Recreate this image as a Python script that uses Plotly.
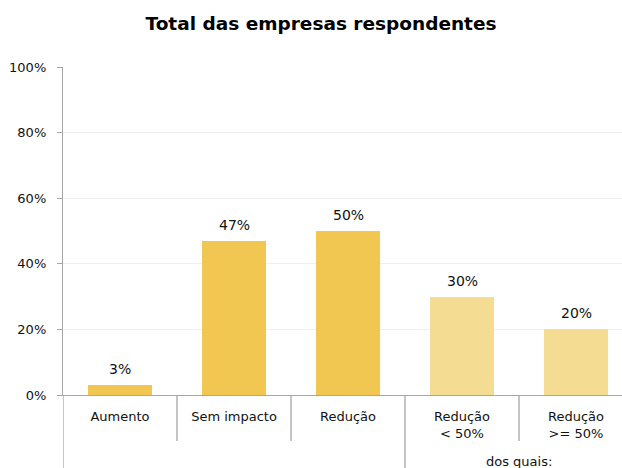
import plotly.graph_objects as go

# Survey result shares
categories = ["Aumento", "Sem impacto", "Redução", "Redução<br>< 50%", "Redução<br>>= 50%"]
values = [0.03, 0.47, 0.50, 0.30, 0.20]
value_labels = ["3%", "47%", "50%", "30%", "20%"]
group_label = "dos quais:"
y_ticks = [0, 0.2, 0.4, 0.6, 0.8, 1.0]
y_tick_labels = ["0%", "20%", "40%", "60%", "80%", "100%"]

main_color = "#F2C751"
sub_color = "#F5DC93"
bar_colors = [main_color, main_color, main_color, sub_color, sub_color]

FONT = "DejaVu Sans"
W, H = 622, 468
M_L, M_R, M_T, M_B = 63, 0, 67, 73
plot_h = H - M_T - M_B
plot_w = W - M_L - M_R
cat_px = 114  # pixel width of one category slot

x_idx = list(range(len(categories)))

fig = go.Figure()
fig.add_trace(go.Bar(
    x=x_idx,
    y=values,
    width=0.56,
    marker=dict(color=bar_colors, line=dict(width=0)),
    hoverinfo="skip",
))

# value labels above bars
for i, (v, t) in enumerate(zip(values, value_labels)):
    fig.add_annotation(
        x=i, y=v, xref="x", yref="y", text=t, showarrow=False,
        yanchor="bottom", yshift=6,
        font=dict(family=FONT, size=14, color="#111111"),
    )

axis_grey = "#A6A6A6"

# category separators (first level)
for b in [0.5, 1.5, 3.5]:
    fig.add_shape(type="line", xref="x", yref="paper",
                  x0=b, x1=b, y0=0, y1=-46 / plot_h,
                  line=dict(color=axis_grey, width=1.3))
# group separators (reach to the bottom)
for b in [-0.5, 2.5]:
    fig.add_shape(type="line", xref="x", yref="paper",
                  x0=b, x1=b, y0=0, y1=-M_B / plot_h,
                  line=dict(color=axis_grey, width=1.3))

fig.add_annotation(
    x=3.5, y=-66 / plot_h, xref="x", yref="paper", text=group_label,
    showarrow=False, yanchor="middle",
    font=dict(family=FONT, size=13, color="#111111"),
)

fig.update_layout(
    width=W, height=H,
    margin=dict(l=M_L, r=M_R, t=M_T, b=M_B),
    paper_bgcolor="white", plot_bgcolor="white",
    showlegend=False,
    bargap=0,
    title=dict(
        text="<b>Total das empresas respondentes</b>",
        x=321 / W, xanchor="center", y=1 - 24 / H, yanchor="middle",
        font=dict(family=FONT, size=18.5, color="#000000"),
    ),
    font=dict(family=FONT, size=13, color="#111111"),
    xaxis=dict(
        range=[-0.5, -0.5 + plot_w / cat_px],
        tickmode="array", tickvals=x_idx, ticktext=categories,
        showgrid=False, zeroline=False,
        showline=True, linecolor=axis_grey, linewidth=1.3,
        ticks="", ticklabelstandoff=9,
        tickfont=dict(family=FONT, size=13, color="#111111"),
        fixedrange=True,
    ),
    yaxis=dict(
        range=[0, 1],
        tickmode="array", tickvals=y_ticks, ticktext=y_tick_labels,
        showgrid=True, gridcolor="#EFEFEF", gridwidth=1,
        zeroline=False,
        showline=True, linecolor=axis_grey, linewidth=1.3,
        ticks="outside", ticklen=5, tickcolor=axis_grey, tickwidth=1.3,
        ticklabelstandoff=8,
        tickfont=dict(family=FONT, size=13, color="#111111"),
        fixedrange=True,
    ),
)

fig.write_html("out.html")
